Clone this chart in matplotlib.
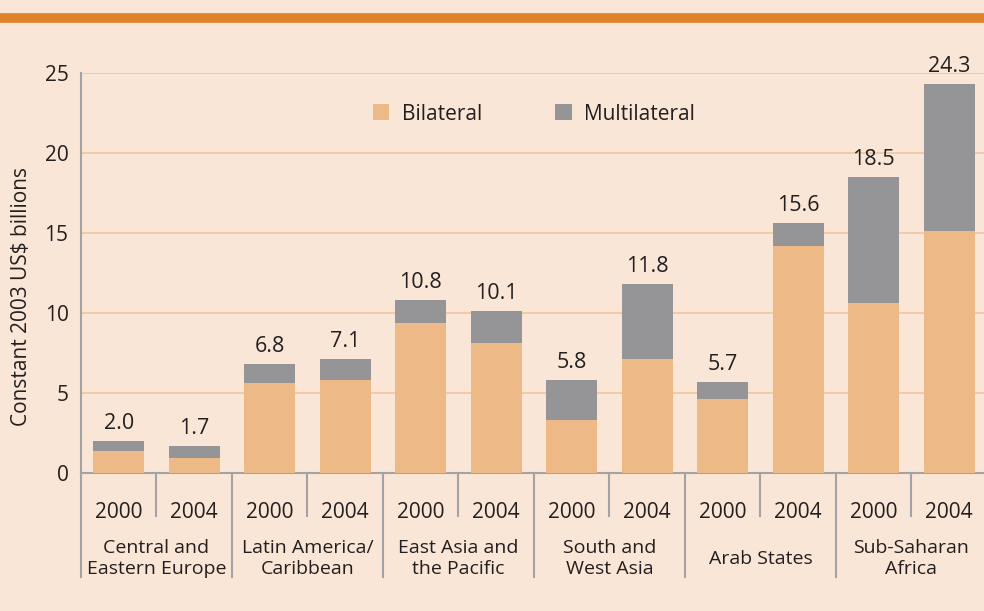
import matplotlib
matplotlib.use("Agg")
import matplotlib.pyplot as plt
import numpy as np

# values in constant 2003 US$ billions
regions = ["Central and\nEastern Europe", "Latin America/\nCaribbean", "East Asia and\nthe Pacific",
           "South and\nWest Asia", "Arab States", "Sub-Saharan\nAfrica"]
years = ["2000", "2004"] * 6
bilateral = [1.4, 0.95, 5.6, 5.8, 9.4, 8.1, 3.3, 7.1, 4.6, 14.2, 10.6, 15.1]
totals = [2.0, 1.7, 6.8, 7.1, 10.8, 10.1, 5.8, 11.8, 5.7, 15.6, 18.5, 24.3]
multilateral = [t - b for t, b in zip(totals, bilateral)]
yticks = [0, 5, 10, 15, 20, 25]

bg = "#FAE6D6"
tan = "#EDB987"
grey = "#959598"
axis_grey = "#A3A3A5"
txt = "#231F20"

plt.rcParams['font.family'] = ['Open Sans', 'DejaVu Sans']
plt.rcParams['font.weight'] = 'medium'

fig = plt.figure(figsize=(9.84, 6.11), dpi=100, facecolor=bg)
ax = fig.add_axes([0.0823, 0.2259, 0.9207, 0.6547], facecolor=bg)

# orange rule along the top
fig.add_artist(plt.Line2D([0, 1], [0.97, 0.97], transform=fig.transFigure, color="#E0832B", lw=7))

x = np.arange(len(totals))
ax.bar(x, bilateral, width=0.68, color=tan, zorder=3, label="Bilateral")
ax.bar(x, multilateral, width=0.68, bottom=bilateral, color=grey, zorder=3, label="Multilateral")

for xi, t in zip(x, totals):
    ax.annotate(f"{t:.1f}", (xi, t), xytext=(0, 5), textcoords="offset points",
                ha="center", va="bottom", fontsize=15.5, color=txt)

ax.set_xlim(-0.5, 11.5)
ax.set_ylim(0, 25)
ax.set_yticks(yticks)
ax.set_yticklabels([str(v) for v in yticks], fontsize=15, color=txt)
ax.yaxis.grid(True, color="#F2C8A0", lw=1.3, zorder=0)
ax.set_axisbelow(True)
ax.tick_params(axis="y", length=0, pad=9)
ax.set_xticks(x)
ax.set_xticklabels(years, fontsize=15, color=txt)
ax.tick_params(axis="x", length=0, pad=21)

for s in ["top", "right"]:
    ax.spines[s].set_visible(False)
for s in ["left", "bottom"]:
    ax.spines[s].set_color(axis_grey)
    ax.spines[s].set_linewidth(1.5)

# separators below the axis
for i in range(12):
    xs = i - 0.5
    if i % 2 == 0:
        ax.plot([xs, xs], [0, -6.5], color=axis_grey, lw=1.5, clip_on=False)
    else:
        ax.plot([xs, xs], [0, -2.7], color=axis_grey, lw=1.5, clip_on=False)

for k, r in enumerate(regions):
    ax.text(2 * k + 0.5, -5.35, r, ha="center", va="center", fontsize=14,
            color=txt, linespacing=1.2)

ax.set_ylabel("Constant 2003 US$ billions", fontsize=15, color=txt)
ax.yaxis.set_label_coords(-0.054, 0.44)

ax.legend(loc="upper center", bbox_to_anchor=(0.5, 0.97), ncol=2, frameon=False,
          prop={'size': 15}, handlelength=0.8, handleheight=0.8, columnspacing=3.5,
          handletextpad=0.6, labelcolor=txt)

fig.savefig("out.png", dpi=100, facecolor=bg)
